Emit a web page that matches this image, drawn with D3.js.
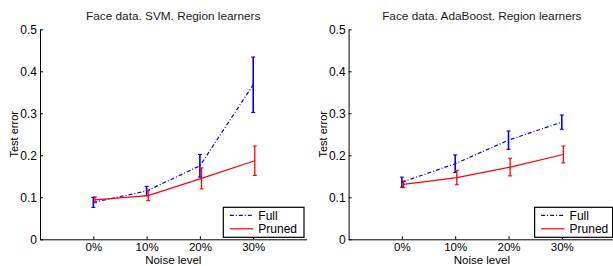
<!DOCTYPE html>
<html>
<head>
<meta charset="utf-8">
<script src="https://cdn.jsdelivr.net/npm/d3@7"></script>
<style>
  body { margin: 0; background: #fff; }
  text { font-family: "Liberation Sans", Arial, Helvetica, sans-serif; fill: #000; }
</style>
</head>
<body>
<script>
var width = 613,
    height = 266;

// noise levels (in units of 10%)
var noiseLevels = [0, 1, 2, 3];
var noiseLabels = ["0%", "10%", "20%", "30%"];
var yTicks = [0, 0.1, 0.2, 0.3, 0.4, 0.5];

// left panel: SVM
var svmFull = [0.088, 0.115, 0.175, 0.368];
var svmFullErr = [0.012, 0.011, 0.027, 0.066];
var svmPruned = [0.094, 0.104, 0.145, 0.187];
var svmPrunedErr = [0.007, 0.012, 0.025, 0.035];

// right panel: AdaBoost
var adaFull = [0.136, 0.18, 0.236, 0.279];
var adaFullErr = [0.012, 0.021, 0.022, 0.017];
var adaPruned = [0.131, 0.147, 0.172, 0.202];
var adaPrunedErr = [0.008, 0.017, 0.021, 0.02];

var panels = [
  { title: "Face data. SVM. Region learners", left: 40, legendW: 80.7, full: svmFull, fullErr: svmFullErr, pruned: svmPruned, prunedErr: svmPrunedErr },
  { title: "Face data. AdaBoost. Region learners", left: 348.6, legendW: 78, full: adaFull, fullErr: adaFullErr, pruned: adaPruned, prunedErr: adaPrunedErr }
];

var svg = d3.select("body").append("svg")
    .attr("width", width)
    .attr("height", height);

var top_ = 29.3, bottom = 239.3, plotW = 266.5;

var y = d3.scaleLinear().domain([0, 0.5]).range([bottom, top_]);

panels.forEach(function(p) {
  var x = d3.scaleLinear().domain([-1, 4]).range([p.left, p.left + plotW]);
  var g = svg.append("g");

  // axes, ticks point inward like matlab
  var yAxis = d3.axisLeft(y).tickValues(yTicks).tickSizeInner(-3).tickSizeOuter(0).tickPadding(3)
      .tickFormat(function(d) { return d === 0 ? "0" : d3.format(".1f")(d); });
  var xAxis = d3.axisBottom(x).tickValues(noiseLevels).tickSizeInner(-3).tickSizeOuter(0).tickPadding(3.5)
      .tickFormat(function(d, i) { return noiseLabels[i]; });

  var ya = g.append("g").attr("transform", "translate(" + p.left + ",0)").call(yAxis);
  var xa = g.append("g").attr("transform", "translate(0," + bottom + ")").call(xAxis);
  ya.selectAll("text").style("font-size", "12px");
  xa.selectAll("text").style("font-size", "11.5px");
  [ya, xa].forEach(function(a) {
    a.selectAll("text").style("font-family", "'Liberation Sans', Arial, sans-serif");
    a.selectAll("path, line").attr("stroke", "#000");
  });

  g.append("text")
      .attr("x", x(1.5)).attr("y", 19.5)
      .attr("text-anchor", "middle")
      .style("font-size", "11.8px")
      .style("fill", "#1a1a1a")
      .text(p.title);

  g.append("text")
      .attr("x", x(1.5)).attr("y", 263.5)
      .attr("text-anchor", "middle")
      .style("font-size", "11.5px")
      .text("Noise level");

  g.append("text")
      .attr("transform", "translate(" + (p.left - 22) + "," + ((top_ + bottom) / 2) + ") rotate(-90)")
      .attr("text-anchor", "middle")
      .style("font-size", "11px")
      .text("Test error");

  var series = [
    { name: "Full", vals: p.full, err: p.fullErr, color: "#0000ff", dash: "4,2,1,2", off: 0, bw: 1.6 },
    { name: "Pruned", vals: p.pruned, err: p.prunedErr, color: "#ff0000", dash: null, off: 0.03, bw: 1.3 }
  ];

  series.forEach(function(s) {
    var line = d3.line()
        .x(function(d, i) { return x(noiseLevels[i] + s.off); })
        .y(function(d) { return y(d); });
    g.append("path")
        .datum(s.vals)
        .attr("d", line)
        .attr("fill", "none")
        .attr("stroke", s.color)
        .attr("stroke-width", 1.2)
        .attr("stroke-dasharray", s.dash);

    var eb = g.selectAll(null).data(s.vals).enter().append("g")
        .attr("stroke", s.color)
        .attr("stroke-width", s.bw);
    eb.append("line")
        .attr("x1", function(d, i) { return x(noiseLevels[i] + s.off); })
        .attr("x2", function(d, i) { return x(noiseLevels[i] + s.off); })
        .attr("y1", function(d, i) { return y(d - s.err[i]); })
        .attr("y2", function(d, i) { return y(d + s.err[i]); });
    [-1, 1].forEach(function(sg) {
      eb.append("line")
          .attr("x1", function(d, i) { return x(noiseLevels[i] + s.off) - 2; })
          .attr("x2", function(d, i) { return x(noiseLevels[i] + s.off) + 2; })
          .attr("y1", function(d, i) { return y(d + sg * s.err[i]); })
          .attr("y2", function(d, i) { return y(d + sg * s.err[i]); })
          .attr("stroke-width", 1.1);
    });
  });

  // legend, bottom right
  var lx = p.left + plotW - 0.5 - p.legendW - 2, ly = 207.3;
  if (p.left === 40) lx = 223.3;
  var lg = g.append("g").attr("transform", "translate(" + lx + "," + ly + ")");
  lg.append("rect").attr("width", p.legendW).attr("height", 30)
      .attr("fill", "#fff").attr("stroke", "#000").attr("stroke-width", 1.2);
  series.forEach(function(s, i) {
    var yy = 8 + i * 13.5;
    lg.append("line").attr("x1", 6.5).attr("x2", 30).attr("y1", yy).attr("y2", yy)
        .attr("stroke", s.color).attr("stroke-width", 1.2).attr("stroke-dasharray", s.dash);
    lg.append("text").attr("x", 35).attr("y", yy + 4.5)
        .style("font-size", "12px")
        .text(s.name);
  });
});
</script>
</body>
</html>
